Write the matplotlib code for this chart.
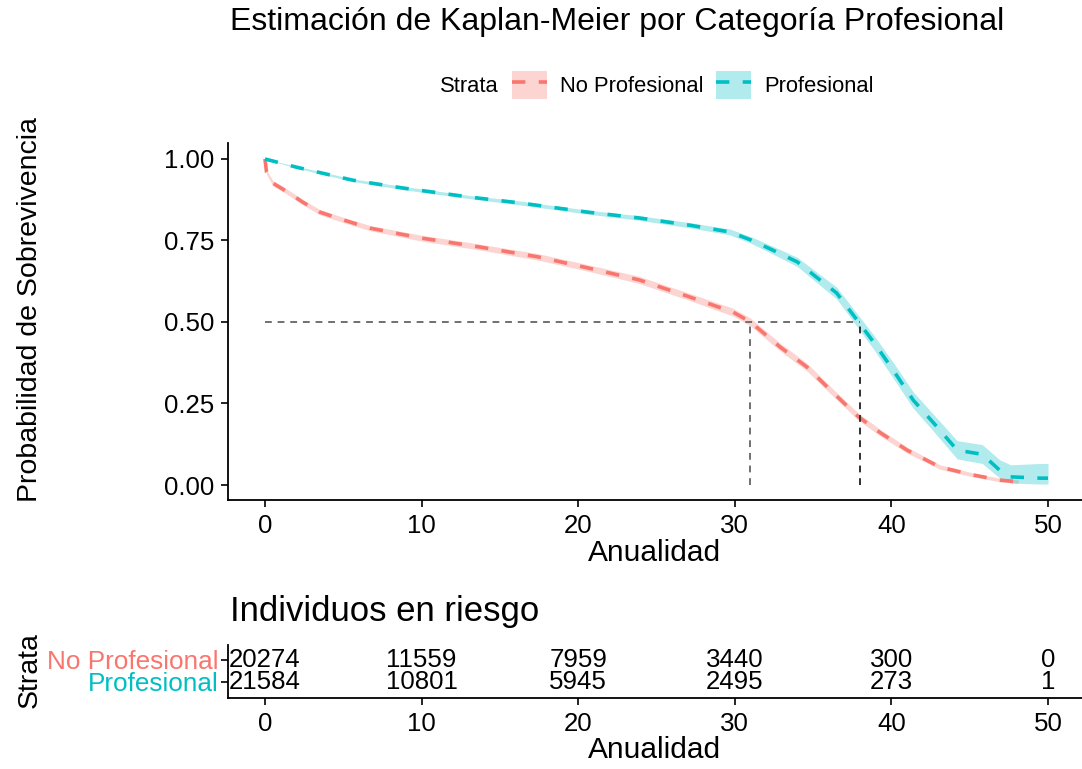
import matplotlib
matplotlib.use("Agg")
import matplotlib.pyplot as plt
from matplotlib.patches import Patch
from matplotlib.lines import Line2D
import numpy as np

plt.rcParams['font.family'] = ['Liberation Sans', 'DejaVu Sans']

# curvas de Kaplan-Meier
red_t = [0, 0.1, 0.5, 1.4, 2.4, 3.5, 5.0, 6.7, 9.9, 13.7, 17.4, 20.6, 23.9, 27.1, 29.9,
         31.0, 32.9, 34.6, 36.3, 37.9, 39.3, 41.0, 43.1, 45.2, 46.9, 48.1]
red_s = [1.0, 0.96, 0.926, 0.90, 0.868, 0.837, 0.813, 0.788, 0.758, 0.730, 0.700, 0.666, 0.629, 0.577, 0.530,
         0.500, 0.423, 0.362, 0.282, 0.209, 0.160, 0.107, 0.055, 0.031, 0.015, 0.010]
red_lo = [1.0, 0.953, 0.918, 0.892, 0.860, 0.829, 0.805, 0.780, 0.749, 0.721, 0.690, 0.656, 0.618, 0.566, 0.518,
          0.488, 0.411, 0.350, 0.271, 0.198, 0.150, 0.098, 0.048, 0.025, 0.010, 0.005]
red_hi = [1.0, 0.967, 0.934, 0.908, 0.876, 0.845, 0.821, 0.796, 0.767, 0.739, 0.710, 0.676, 0.640, 0.588, 0.542,
          0.512, 0.435, 0.374, 0.293, 0.220, 0.170, 0.116, 0.062, 0.037, 0.021, 0.016]

teal_t = [0, 2.0, 5.6, 8.8, 13.1, 16.3, 20.6, 23.9, 27.1, 29.7, 31.0, 32.4, 34.0, 35.2, 36.5,
          37.9, 38.9, 40.1, 41.4, 42.7, 44.2, 45.8, 46.9, 47.6, 49.5, 50.0]
teal_s = [1.0, 0.975, 0.935, 0.911, 0.883, 0.865, 0.837, 0.819, 0.797, 0.776, 0.752, 0.721, 0.684, 0.638, 0.589,
          0.500, 0.436, 0.353, 0.260, 0.190, 0.107, 0.094, 0.046, 0.025, 0.021, 0.021]
teal_lo = [1.0, 0.972, 0.931, 0.906, 0.878, 0.859, 0.831, 0.812, 0.789, 0.767, 0.742, 0.709, 0.670, 0.622, 0.571,
           0.480, 0.414, 0.329, 0.235, 0.164, 0.080, 0.066, 0.022, 0.006, 0.003, 0.003]
teal_hi = [1.0, 0.978, 0.939, 0.916, 0.888, 0.871, 0.843, 0.826, 0.805, 0.785, 0.762, 0.733, 0.698, 0.654, 0.607,
           0.520, 0.458, 0.377, 0.285, 0.216, 0.136, 0.124, 0.078, 0.062, 0.066, 0.066]

medians = [31, 38]

risk_times = [0, 10, 20, 30, 40, 50]
risk_no = [20274, 11559, 7959, 3440, 300, 0]
risk_pro = [21584, 10801, 5945, 2495, 273, 1]

RED = '#F8766D'
TEAL = '#00BFC4'
W, H = 1082, 769

fig = plt.figure(figsize=(W / 100, H / 100), dpi=100)

# --- grafico principal ---
ax = fig.add_axes([228 / W, 1 - 500 / H, (W - 228) / W, (500 - 143) / H])
dash = (0, (3.7, 3.7))
ax.fill_between(red_t, red_lo, red_hi, color=RED, alpha=0.3, lw=0)
ax.fill_between(teal_t, teal_lo, teal_hi, color=TEAL, alpha=0.3, lw=0)
ax.plot(red_t, red_s, color=RED, lw=2.6, ls=dash)
ax.plot(teal_t, teal_s, color=TEAL, lw=2.6, ls=dash)

ax.plot([0, max(medians)], [0.5, 0.5], color='#707070', lw=1.4, ls=(0, (3.5, 3)))
ax.plot([medians[0], medians[0]], [0, 0.5], color='#707070', lw=1.4, ls=(0, (3.5, 3)))
ax.plot([medians[1], medians[1]], [0, 0.5], color='#303030', lw=1.4, ls=(0, (3.5, 3)))

ax.set_xlim(-2.36, 52.17)
ax.set_ylim(-0.046, 1.049)
ax.set_xticks(risk_times)
ax.set_yticks([0, 0.25, 0.5, 0.75, 1.0])
ax.set_yticklabels(['0.00', '0.25', '0.50', '0.75', '1.00'])
for s in ['top', 'right']:
    ax.spines[s].set_visible(False)
for s in ['left', 'bottom']:
    ax.spines[s].set_linewidth(1.3)
ax.tick_params(labelsize=18.6, length=5, width=1.2, pad=5, colors='black')
ax.set_xlabel('Anualidad', fontsize=21.5, labelpad=1)

fig.text(30 / W, 1 - 310 / H, 'Probabilidad de Sobrevivencia', rotation=90,
         fontsize=20.5, ha='center', va='center')
fig.text(617 / W, 1 - 22 / H, 'Estimación de Kaplan-Meier por Categoría Profesional',
         fontsize=23, ha='center', va='center')

# leyenda
fig.text(440 / W, 1 - 86 / H, 'Strata', fontsize=15.8, ha='left', va='center')
handles = [(Patch(facecolor=RED, alpha=0.3, lw=0), Line2D([], [], color=RED, lw=2.6, ls=dash)),
           (Patch(facecolor=TEAL, alpha=0.3, lw=0), Line2D([], [], color=TEAL, lw=2.6, ls=dash))]
fig.legend(handles, ['No Profesional', 'Profesional'], loc='center left',
           bbox_to_anchor=(512 / W, 1 - 85 / H), bbox_transform=fig.transFigure,
           ncol=2, frameon=False, fontsize=15.8, borderpad=0, borderaxespad=0,
           handlelength=1.6, handleheight=1.6, handletextpad=0.6, columnspacing=0.55)

# --- tabla de riesgo ---
rax = fig.add_axes([228 / W, 1 - 698 / H, (W - 228) / W, 53 / H])
for t, n in zip(risk_times, risk_no):
    rax.text(t, 2, str(n), ha='center', va='center', fontsize=18.6)
for t, n in zip(risk_times, risk_pro):
    rax.text(t, 1, str(n), ha='center', va='center', fontsize=18.6)
rax.set_xlim(-2.36, 52.17)
rax.set_ylim(0.27, 2.68)
rax.set_xticks(risk_times)
rax.set_yticks([2, 1])
rax.set_yticklabels(['No Profesional', 'Profesional'])
for lab, c in zip(rax.get_yticklabels(), [RED, TEAL]):
    lab.set_color(c)
for s in ['top', 'right']:
    rax.spines[s].set_visible(False)
for s in ['left', 'bottom']:
    rax.spines[s].set_linewidth(1.3)
rax.tick_params(axis='x', labelsize=18.6, length=5, width=1.2, pad=5)
rax.tick_params(axis='y', labelsize=18.8, length=5, width=1.2, pad=2)
rax.set_xlabel('Anualidad', fontsize=21.5, labelpad=0)

fig.text(230 / W, 1 - 612 / H, 'Individuos en riesgo', fontsize=25, ha='left', va='center')
fig.text(30 / W, 1 - 670 / H, 'Strata', rotation=90, fontsize=20.5, ha='center', va='center')

fig.savefig('out.png', dpi=100)
